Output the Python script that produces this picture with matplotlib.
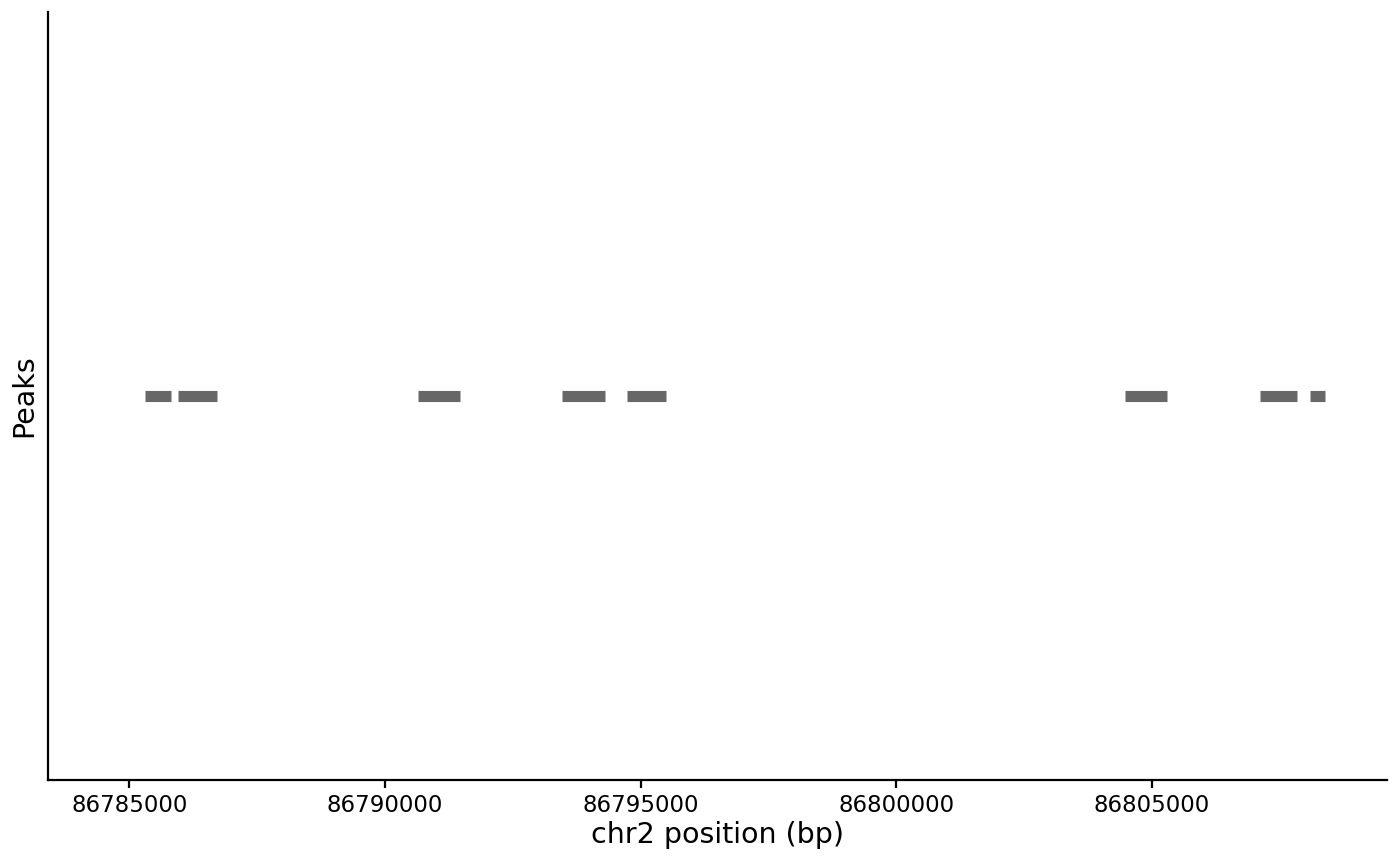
import matplotlib
matplotlib.use("Agg")
import matplotlib.pyplot as plt

# peak intervals on chr2 (bp)
peak_starts = [86785313, 86785946, 86790651, 86793455, 86794733,
               86804471, 86807111, 86808082]
peak_ends = [86785821, 86786709, 86791473, 86794308, 86795501,
             86805298, 86807840, 86808376]
tick_positions = [86785000, 86790000, 86795000, 86800000, 86805000]

fig = plt.figure(figsize=(14, 8.65), dpi=100)
ax = fig.add_axes([48 / 1400, 85 / 865, 1339 / 1400, 768 / 865])

ax.hlines([1] * len(peak_starts), peak_starts, peak_ends,
          colors="#676767", linewidth=8, capstyle="butt")

ax.set_xlim(86783410, 86809594)
ax.set_ylim(0.4, 1.6)
ax.set_xticks(tick_positions)
ax.set_xticklabels([str(t) for t in tick_positions])
ax.set_yticks([])

ax.spines["top"].set_visible(False)
ax.spines["right"].set_visible(False)
ax.spines["left"].set_linewidth(1.6)
ax.spines["bottom"].set_linewidth(1.6)
ax.tick_params(axis="x", length=6, width=1.6, labelsize=16.5, pad=4)

ax.set_xlabel("chr2 position (bp)", fontsize=20.5, labelpad=3)
ax.set_ylabel("Peaks", fontsize=20.5, labelpad=7)

fig.savefig("out.png", dpi=100)
